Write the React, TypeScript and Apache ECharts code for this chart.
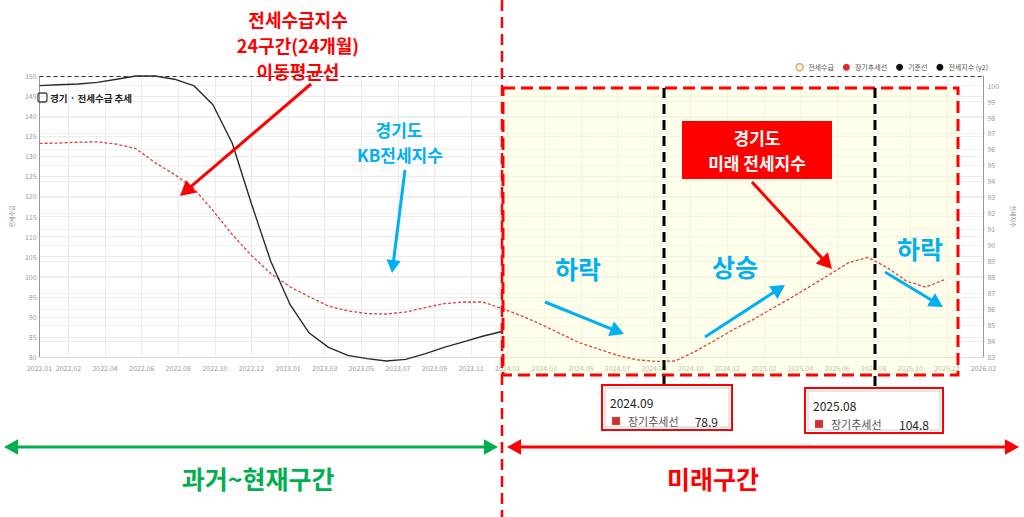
import React, { useEffect, useRef } from 'react';
import * as echarts from 'echarts';

// ---------- data ----------
const months = [
  '2022.01', '2022.02', '2022.03', '2022.04', '2022.05', '2022.06', '2022.07', '2022.08', '2022.09', '2022.10', '2022.11', '2022.12',
  '2023.01', '2023.02', '2023.03', '2023.04', '2023.05', '2023.06', '2023.07', '2023.08', '2023.09', '2023.10', '2023.11', '2023.12',
  '2024.01', '2024.02', '2024.03', '2024.04', '2024.05', '2024.06', '2024.07', '2024.08', '2024.09', '2024.10', '2024.11', '2024.12',
  '2025.01', '2025.02', '2025.03', '2025.04', '2025.05', '2025.06', '2025.07', '2025.08', '2025.09', '2025.10', '2025.11', '2025.12',
];

// 장기추세선 (left axis) – 24개월 이동평균
const trendValues = [
  133.2, 133.3, 133.5, 133.6, 133.0, 131.9, 128.4, 125.5, 122.0, 116.5, 110.5, 105.3,
  100.8, 97.5, 95.0, 92.7, 91.5, 90.8, 90.7, 91.2, 92.3, 93.3, 93.7, 93.7,
  92.1, 90.3, 88.2, 85.9, 83.6, 82.0, 80.4, 79.3, 78.9, 79.0, 81.3, 84.0,
  86.8, 89.2, 92.0, 94.7, 97.6, 100.5, 103.5, 104.8, 102.3, 98.9, 97.4, 99.3,
];

// 전세지수 (y2, right axis) – 2022.01 ~ 2024.01
const kbIndexValues = [
  100.0, 100.05, 100.1, 100.2, 100.4, 100.6, 100.6, 100.4, 100.0, 98.8, 96.4, 92.6,
  89.0, 86.3, 84.5, 83.6, 83.1, 82.9, 82.75, 82.85, 83.2, 83.6, 83.95, 84.3, 84.6,
];

const baselineValue = 150;

// x tick labels (time axis ticks, in months since 2022.01)
const xTickMonths = [0, 1.5, 3.4, 5.3, 7.2, 9.1, 11.0, 12.9, 14.8, 16.7, 18.6, 20.5, 22.4, 24.3, 26.2, 28.1, 30.0, 31.9, 33.8, 35.7, 37.6, 39.5, 41.4, 43.3, 45.2, 47.1, 49];
const xTickLabels = [
  '2022.01', '2022.02', '2022.04', '2022.06', '2022.08', '2022.10', '2022.12',
  '2023.01', '2023.03', '2023.05', '2023.07', '2023.09', '2023.11',
  '2024.01', '2024.03', '2024.05', '2024.07', '2024.08', '2024.10', '2024.12',
  '2025.02', '2025.04', '2025.06', '2025.08', '2025.10', '2025.12', '2026.02',
];

const leftAxisName = '전세수급';
const rightAxisName = '전세지수';
const chartTitle = '경기 · 전세수급 추세';
const tipMonths = ['2024.09', '2025.08'];

const FONT = '"Noto Sans CJK KR", "Noto Sans", sans-serif';
const RED = '#ff0000';
const CYAN = '#00b0f0';
const GREEN = '#00b050';

function arrow(x1: number, y1: number, x2: number, y2: number, color: string, lw: number, head: number, both = false): any[] {
  const a = Math.atan2(y2 - y1, x2 - x1);
  const c = Math.cos(a), s = Math.sin(a);
  const hw = head * 0.55;
  const headPts = (tx: number, ty: number, dc: number, ds: number) => {
    const bx = tx - head * dc, by = ty - head * ds;
    return [[tx, ty], [bx - hw * ds, by + hw * dc], [bx + hw * ds, by - hw * dc]];
  };
  const els: any[] = [
    {
      type: 'line', z: 100,
      shape: {
        x1: both ? x1 + head * 0.7 * c : x1, y1: both ? y1 + head * 0.7 * s : y1,
        x2: x2 - head * 0.7 * c, y2: y2 - head * 0.7 * s,
      },
      style: { stroke: color, lineWidth: lw },
    },
    { type: 'polygon', z: 100, shape: { points: headPts(x2, y2, c, s) }, style: { fill: color } },
  ];
  if (both) els.push({ type: 'polygon', z: 100, shape: { points: headPts(x1, y1, -c, -s) }, style: { fill: color } });
  return els;
}

function label(text: string, x: number, y: number, color: string, size: number): any {
  return {
    type: 'text', x, y, z: 100,
    style: { text, fill: color, font: `bold ${size}px ${FONT}`, align: 'center', verticalAlign: 'middle' },
  };
}

function tipBox(x: number, y: number, w: number, h: number, month: string): any[] {
  const idx = months.indexOf(month);
  const val = trendValues[idx].toFixed(1);
  return [
    { type: 'rect', z: 100, shape: { x: x + 3, y: y + 3, width: w - 6, height: h - 6 }, style: { fill: '#fff', stroke: '#cfcfcf', lineWidth: 1 } },
    { type: 'rect', z: 101, shape: { x, y, width: w, height: h }, style: { fill: 'none', stroke: RED, lineWidth: 2 } },
    { type: 'text', z: 101, x: x + 8, y: y + 17, style: { text: month, fill: '#222', font: `12px ${FONT}`, verticalAlign: 'middle' } },
    { type: 'rect', z: 101, shape: { x: x + 10, y: y + 32, width: 8, height: 8 }, style: { fill: '#d23030', stroke: '#999', lineWidth: 0.5 } },
    { type: 'text', z: 101, x: x + 26, y: y + 36, style: { text: '장기추세선', fill: '#555', font: `11px ${FONT}`, verticalAlign: 'middle' } },
    { type: 'text', z: 101, x: x + w - 14, y: y + 36, style: { text: val, fill: '#222', font: `12px ${FONT}`, align: 'right', verticalAlign: 'middle' } },
  ];
}

export default function App() {
  const ref = useRef<HTMLDivElement>(null);

  useEffect(() => {
    if (!ref.current) return;
    const chart = echarts.init(ref.current, undefined, { renderer: 'svg' });

    const tickIdx = (v: number) => xTickMonths.findIndex((p) => Math.abs(p - v) < 0.01);

    const graphics: any[] = [
      // future-period highlight
      { type: 'rect', z: 1, shape: { x: 503, y: 88, width: 455, height: 287 }, style: { fill: 'rgba(255,255,200,0.35)' } },
      // title
      { type: 'rect', z: 100, shape: { x: 38, y: 93, width: 9, height: 9, r: 2 }, style: { fill: 'none', stroke: '#444', lineWidth: 1.3 } },
      { type: 'text', z: 100, x: 50, y: 98, style: { text: chartTitle, fill: '#222', font: `bold 9.5px ${FONT}`, verticalAlign: 'middle' } },
      // red divider + box
      { type: 'line', z: 100, shape: { x1: 502, y1: 0, x2: 502, y2: 517 }, style: { stroke: RED, lineWidth: 2.5, lineDash: [11, 6] } },
      { type: 'rect', z: 100, shape: { x: 503, y: 88, width: 455, height: 287 }, style: { fill: 'none', stroke: RED, lineWidth: 3, lineDash: [12, 6] } },
      // black dashed verticals
      { type: 'line', z: 100, shape: { x1: 664, y1: 88, x2: 664, y2: 385 }, style: { stroke: '#000', lineWidth: 3, lineDash: [10, 6] } },
      { type: 'line', z: 100, shape: { x1: 875, y1: 88, x2: 875, y2: 390 }, style: { stroke: '#000', lineWidth: 3, lineDash: [10, 6] } },
      // top red annotation
      label('전세수급지수', 298, 19, RED, 18),
      label('24구간(24개월)', 298, 45, RED, 18),
      label('이동평균선', 298, 71, RED, 18),
      ...arrow(311, 84, 180, 196, RED, 3, 15),
      // KB index annotation
      label('경기도', 399, 129, CYAN, 17),
      label('KB전세지수', 400, 154, CYAN, 17),
      ...arrow(405, 170, 392, 273, CYAN, 3, 13),
      // direction labels
      label('하락', 578, 268, CYAN, 25),
      ...arrow(545, 302, 624, 334, CYAN, 3, 14),
      label('상승', 735, 266, CYAN, 25),
      ...arrow(705, 337, 785, 285, CYAN, 3, 14),
      label('하락', 920, 248, CYAN, 25),
      ...arrow(885, 272, 943, 307, CYAN, 3, 14),
      // future index box
      { type: 'rect', z: 100, shape: { x: 682, y: 121, width: 150, height: 58 }, style: { fill: RED } },
      label('경기도', 757, 137, '#fff', 17),
      label('미래 전세지수', 757, 162, '#fff', 17),
      ...arrow(752, 182, 832, 269, RED, 3, 15),
      // tooltips
      ...tipBox(602, 385, 130, 45, tipMonths[0]),
      ...tipBox(805, 388, 138, 45, tipMonths[1]),
      // bottom periods
      ...arrow(4, 447, 498, 447, GREEN, 3, 14, true),
      ...arrow(507, 447, 1019, 447, RED, 3, 14, true),
      label('과거~현재구간', 258, 478, GREEN, 25),
      label('미래구간', 713, 478, RED, 25),
    ];

    chart.setOption({
      animation: false,
      textStyle: { fontFamily: FONT },
      grid: { left: 23, right: 25, top: 76, bottom: 160, containLabel: false },
      legend: {
        top: 63, right: 36, itemWidth: 7, itemHeight: 7, itemGap: 9, padding: 0, icon: 'circle',
        textStyle: { fontSize: 7, color: '#555', fontFamily: FONT },
        data: [
          { name: '전세수급', itemStyle: { color: '#fff', borderColor: '#f5a04a', borderWidth: 1.5 } },
          { name: '장기추세선', itemStyle: { color: '#e32b2b', borderWidth: 0 } },
          { name: '기준선', itemStyle: { color: '#111', borderWidth: 0 } },
          { name: '전세지수 (y2)', itemStyle: { color: '#111', borderWidth: 0 } },
        ],
      },
      xAxis: {
        type: 'value', min: 0, max: 49,
        axisLine: { show: true, lineStyle: { color: '#ddd' } },
        axisTick: { show: false, customValues: xTickMonths },
        splitLine: { show: true, lineStyle: { color: '#ececec', width: 1 } },
        axisLabel: {
          customValues: xTickMonths, fontSize: 7, color: '#999', margin: 7, fontFamily: FONT,
          formatter: (v: number) => { const i = tickIdx(v); return i >= 0 ? xTickLabels[i] : ''; },
        },
      },
      yAxis: [
        {
          type: 'value', min: 80, max: 150, interval: 5, position: 'left',
          name: leftAxisName, nameLocation: 'middle', nameGap: 16, nameRotate: 90,
          nameTextStyle: { fontSize: 6, color: '#888' },
          axisLine: { show: true, lineStyle: { color: '#999' } },
          axisTick: { show: false },
          axisLabel: { fontSize: 7, color: '#999', margin: 3 },
          splitLine: { show: true, lineStyle: { color: '#ececec' } },
        },
        {
          type: 'value', min: 83, max: 100.6, interval: 1, position: 'right',
          name: rightAxisName, nameLocation: 'middle', nameGap: 18, nameRotate: 270,
          nameTextStyle: { fontSize: 6, color: '#888' },
          axisLine: { show: true, lineStyle: { color: '#999' } },
          axisTick: { show: false },
          axisLabel: { fontSize: 7, color: '#999', margin: 4, showMaxLabel: false },
          splitLine: { show: true, lineStyle: { color: '#f1f1f1' } },
        },
      ],
      series: [
        { name: '전세수급', type: 'line', data: [], symbol: 'none', itemStyle: { color: '#f5a04a' } },
        {
          name: '장기추세선', type: 'line', yAxisIndex: 0, symbol: 'none', clip: false, z: 3,
          data: trendValues.map((v, i) => [i, v]),
          itemStyle: { color: '#e32b2b' },
          lineStyle: { color: '#e0403a', width: 1.3, type: [3, 2] },
        },
        {
          name: '기준선', type: 'line', yAxisIndex: 0, data: [], symbol: 'none',
          itemStyle: { color: '#111' },
          markLine: {
            silent: true, symbol: 'none', label: { show: false },
            lineStyle: { color: '#333', width: 1.2, type: [4, 3] },
            data: [{ yAxis: baselineValue }],
          },
        },
        {
          name: '전세지수 (y2)', type: 'line', yAxisIndex: 1, symbol: 'none', clip: false, z: 3,
          data: kbIndexValues.map((v, i) => [i, v]),
          itemStyle: { color: '#111' },
          lineStyle: { color: '#2a2a2a', width: 1.4 },
        },
      ],
      graphic: graphics,
    });

    return () => chart.dispose();
  }, []);

  return <div ref={ref} style={{ position: 'absolute', left: 0, top: 0, width: 1024, height: 517 }} />;
}
